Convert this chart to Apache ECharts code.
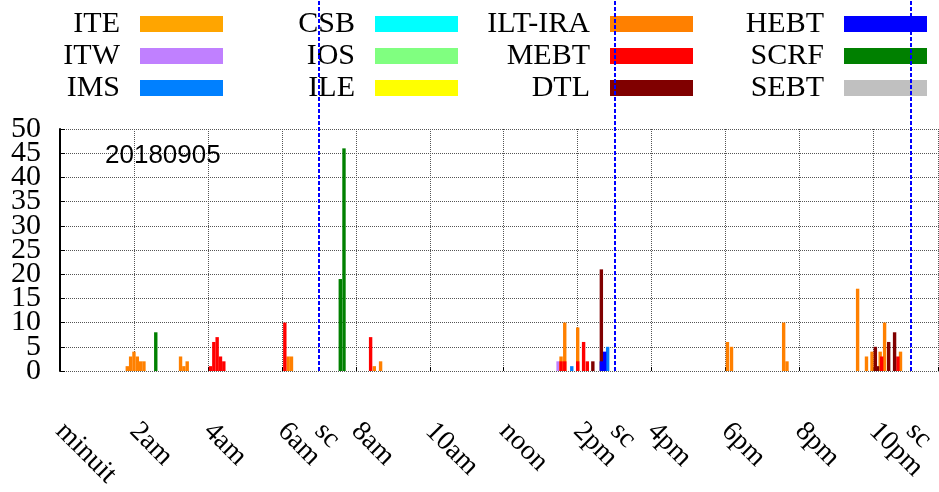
<!DOCTYPE html>
<html>
<head>
<meta charset="utf-8">
<script src="https://cdn.jsdelivr.net/npm/echarts@6/dist/echarts.min.js"></script>
<style>
  html, body { margin: 0; padding: 0; background: #fff; }
  #chart { width: 939px; height: 492px; }
</style>
</head>
<body>
<div id="chart"></div>
<script>
// hour ticks of the x axis, 'sc' marks the shift changes
const hourTicks = [0, 2, 4, 6, 8, 10, 12, 14, 16, 18, 20, 22];
const hourLabels = ['minuit', '2am', '4am', '6am', '8am', '10am', 'noon', '2pm', '4pm', '6pm', '8pm', '10pm'];
const scHours = [7, 15, 23];
const scLabel = 'sc';
// y ticks, drawn on two axes so that the tall serif labels may touch
const yTicksEven = [0, 10, 20, 30, 40, 50];
const yTicksOdd = [5, 15, 25, 35, 45];
// the picture is cut just before midnight
const hourMax = 23.76;

const seriesNames = ['ITE', 'ITW', 'IMS', 'CSB', 'IOS', 'ILE', 'ILT-IRA', 'MEBT', 'DTL', 'HEBT', 'SCRF', 'SEBT'];
const seriesColors = ['#ffa500', '#c080ff', '#0080ff', '#00ffff', '#80ff80', '#ffff00', '#ff8000', '#ff0000', '#800000', '#0000ff', '#008000', '#c0c0c0'];

// [hour, count]
const iteData = [];
const itwData = [[13.47, 2]];
const imsData = [[13.84, 1], [14.81, 5]];
const csbData = [];
const iosData = [];
const ileData = [];
const iltData = [[1.82, 1], [1.91, 3], [2.0, 4], [2.09, 3], [2.18, 2], [2.27, 2],
  [3.26, 3], [3.35, 1], [3.44, 2], [6.17, 3], [6.26, 3], [8.5, 1], [8.67, 2],
  [13.55, 3], [13.65, 10], [14.0, 9], [18.05, 6], [18.16, 5], [19.57, 10], [19.66, 2],
  [21.57, 17], [21.81, 3], [21.96, 4], [22.18, 4], [22.3, 10], [22.73, 4]];
const mebtData = [[4.07, 1], [4.16, 6], [4.25, 7], [4.34, 3], [4.43, 2], [6.08, 10], [8.4, 7],
  [13.55, 2], [13.65, 2], [14.0, 2], [14.16, 6], [14.26, 2], [22.22, 3], [22.66, 3]];
const dtlData = [[14.41, 2], [14.64, 21], [22.05, 5], [22.11, 1], [22.41, 6], [22.57, 8]];
const hebtData = [[14.64, 2], [14.73, 4]];
const scrfData = [[2.59, 8], [7.58, 19], [7.68, 46]];
const sebtData = [];

const allData = [iteData, itwData, imsData, csbData, iosData, ileData, iltData, mebtData, dtlData, hebtData, scrfData, sebtData];

const serif = 'Liberation Serif';

let chart = echarts.init(document.getElementById('chart'));

let series = [];
for (let i = 0; i < seriesNames.length; i++) {
  series.push({
    name: seriesNames[i],
    type: 'bar',
    xAxisIndex: 0,
    yAxisIndex: 0,
    data: allData[i],
    barWidth: 3.4,
    barGap: '-100%',
    itemStyle: { color: seriesColors[i] },
    silent: true
  });
}

// blue dotted shift-change lines, on a grid reaching the top of the image
series.push({
  type: 'line',
  xAxisIndex: 2,
  yAxisIndex: 2,
  data: [],
  silent: true,
  markLine: {
    symbol: 'none',
    silent: true,
    label: { show: false },
    lineStyle: { color: '#0000ff', type: [4, 2], width: 2 },
    data: scHours.map(h => ({ xAxis: h }))
  }
});

// gnuplot-like key: 4 columns x 3 rows, text right, sample box to the right
const colRight = [716, 481, 246, 12];
const rowTop = [9, 41, 73];
let legends = [];
for (let i = 0; i < seriesNames.length; i++) {
  legends.push({
    data: [seriesNames[i]],
    right: colRight[Math.floor(i / 3)],
    top: rowTop[i % 3],
    align: 'right',
    orient: 'vertical',
    padding: 0,
    icon: 'rect',
    itemWidth: 83,
    itemHeight: 16,
    selectedMode: false,
    textStyle: { fontFamily: serif, fontSize: 30, color: '#000', padding: [0, 15, 0, 0] }
  });
}

const xLabelStyle = {
  rotate: -45,
  margin: 56,
  fontFamily: serif,
  fontSize: 28,
  color: '#000',
  showMinLabel: true,
  showMaxLabel: true
};
const yLabelStyle = {
  margin: 19,
  fontFamily: serif,
  fontSize: 30,
  color: '#000',
  showMinLabel: true,
  showMaxLabel: true
};
const hidden = { show: false };

let option = {
  animation: false,
  title: {
    text: '20180905',
    left: 105,
    top: 143,
    padding: 0,
    textStyle: { fontFamily: 'Liberation Sans', fontSize: 26, fontWeight: 'normal', color: '#000' }
  },
  legend: legends,
  grid: [
    { left: 60, right: 0, top: 129, bottom: 121 },
    { left: 60, right: 0, top: 0, bottom: 121 }
  ],
  xAxis: [
    {
      type: 'value',
      gridIndex: 0,
      min: 0,
      max: hourMax,
      interval: 2,
      axisLine: hidden,
      axisTick: { show: true, inside: true, length: 4, lineStyle: { color: '#000' } },
      splitLine: { show: true, lineStyle: { color: '#555', type: 'dotted', width: 1 } },
      axisLabel: {
        ...xLabelStyle,
        customValues: hourTicks,
        formatter: v => hourLabels[hourTicks.indexOf(v)]
      }
    },
    {
      type: 'value',
      gridIndex: 0,
      position: 'bottom',
      min: 0,
      max: hourMax,
      axisLine: hidden,
      axisTick: hidden,
      splitLine: hidden,
      axisLabel: { ...xLabelStyle, customValues: scHours, formatter: () => scLabel }
    },
    { type: 'value', gridIndex: 1, min: 0, max: hourMax, show: false }
  ],
  yAxis: [
    {
      type: 'value',
      gridIndex: 0,
      min: 0,
      max: 50,
      interval: 5,
      axisLine: { show: true, lineStyle: { color: '#000', width: 2 } },
      axisTick: { show: true, inside: true, length: 5, lineStyle: { color: '#000' } },
      splitLine: { show: true, lineStyle: { color: '#555', type: 'dotted', width: 1 } },
      axisLabel: { ...yLabelStyle, customValues: yTicksEven }
    },
    {
      type: 'value',
      gridIndex: 0,
      position: 'left',
      min: 0,
      max: 50,
      axisLine: hidden,
      axisTick: hidden,
      splitLine: hidden,
      axisLabel: { ...yLabelStyle, customValues: yTicksOdd }
    },
    { type: 'value', gridIndex: 1, min: 0, max: 1, show: false }
  ],
  series
};

option && chart.setOption(option);
</script>
</body>
</html>
